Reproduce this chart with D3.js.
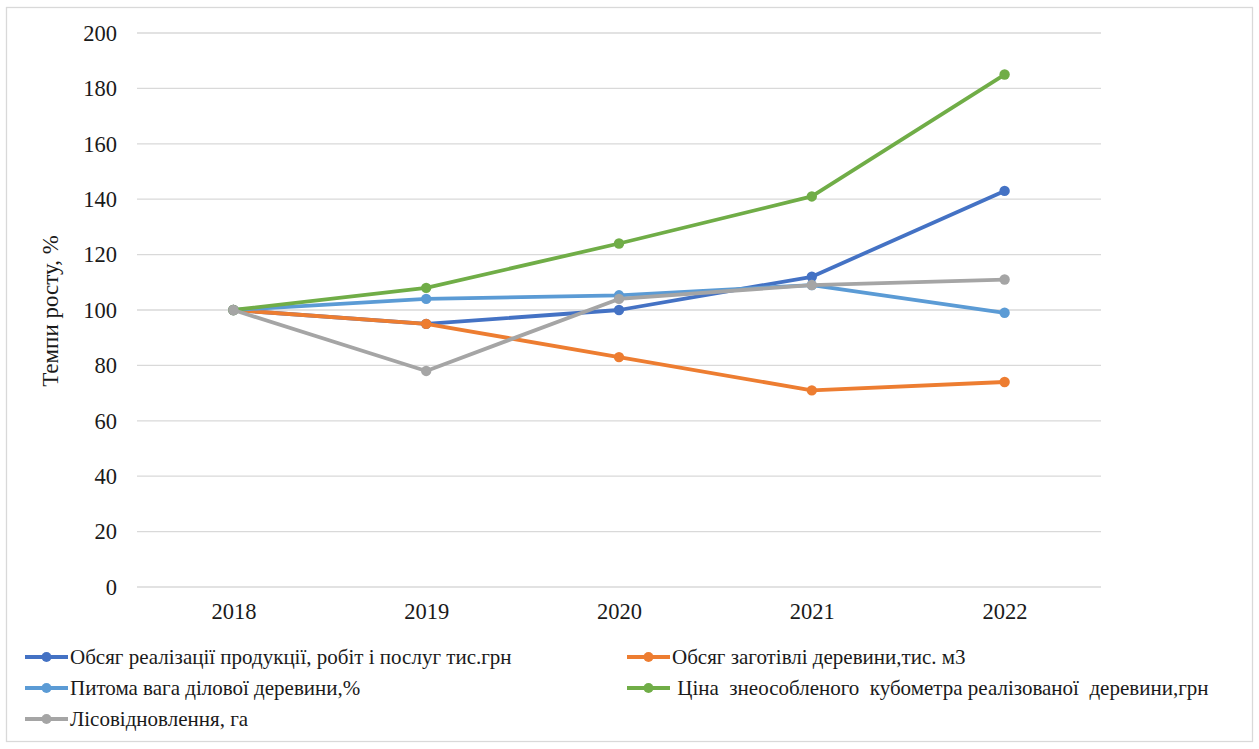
<!DOCTYPE html>
<html>
<head>
<meta charset="utf-8">
<script src="https://cdn.jsdelivr.net/npm/d3@7"></script>
<style>
  body { margin: 0; background: #fff; }
  svg text { font-family: "Liberation Serif", "Times New Roman", Tinos, "DejaVu Serif", serif !important; }
</style>
</head>
<body>
<svg id="main"></svg>
<script>
// years on the x axis
let years = ["2018", "2019", "2020", "2021", "2022"];
let yTicks = [0, 20, 40, 60, 80, 100, 120, 140, 160, 180, 200];

// growth rates, %
let salesVolume = [100, 95, 100, 112, 143];
let harvestVolume = [100, 95, 83, 71, 74];
let businessWoodShare = [100, 104, 105.3, 109, 99];
let cubicMeterPrice = [100, 108, 124, 141, 185];
let reforestation = [100, 78, 104, 109, 111];

let seriesNames = [
  "Обсяг реалізації продукції, робіт і послуг тис.грн",
  "Обсяг заготівлі деревини,тис. м3",
  "Питома вага ділової деревини,%",
  " Ціна  знеособленого  кубометра реалізованої  деревини,грн",
  "Лісовідновлення, га"
];
let seriesColors = ["#4472C4", "#ED7D31", "#5B9BD5", "#70AD47", "#A5A5A5"];
let seriesValues = [salesVolume, harvestVolume, businessWoodShare, cubicMeterPrice, reforestation];

const W = 1259, H = 749;
const plot = {left: 137, right: 1101, top: 33, bottom: 587};

const svg = d3.select("#main").attr("width", W).attr("height", H);

// outer frame
svg.append("rect")
  .attr("x", 6.5).attr("y", 7.5)
  .attr("width", W - 13).attr("height", H - 15)
  .attr("fill", "#fff").attr("stroke", "#d9d9d9").attr("stroke-width", 1.3);

const x = d3.scalePoint()
  .domain(years)
  .range([plot.left, plot.right])
  .padding(0.5);

const y = d3.scaleLinear()
  .domain([0, 200])
  .range([plot.bottom, plot.top]);

// grid lines
svg.append("g")
  .selectAll("line")
  .data(yTicks)
  .enter()
  .append("line")
  .attr("x1", plot.left).attr("x2", plot.right)
  .attr("y1", d => y(d)).attr("y2", d => y(d))
  .attr("stroke", "#d9d9d9").attr("stroke-width", 1.3);

// Y axis
const yAxis = svg.append("g")
  .attr("transform", "translate(" + (plot.left - 20) + ",0)")
  .call(d3.axisLeft(y).tickValues(yTicks).tickSize(0).tickPadding(0));
yAxis.attr("font-family", null);
yAxis.select(".domain").remove();
yAxis.selectAll("text")
  .attr("font-size", 22.5).attr("fill", "#1a1a1a");

// X axis
const xAxis = svg.append("g")
  .attr("transform", "translate(0," + plot.bottom + ")")
  .call(d3.axisBottom(x).tickSize(0).tickPadding(16));
xAxis.attr("font-family", null);
xAxis.select(".domain").remove();
xAxis.selectAll("text")
  .attr("font-size", 22.5).attr("fill", "#1a1a1a");

// Y title
svg.append("text")
  .attr("transform", "translate(58,311) rotate(-90)")
  .attr("text-anchor", "middle")
  .attr("font-size", 23).attr("fill", "#1a1a1a")
  .text("Темпи росту, %");

const line = d3.line()
  .x((d, i) => x(years[i]))
  .y(d => y(d));

seriesValues.forEach((vals, k) => {
  svg.append("path")
    .datum(vals)
    .attr("d", line)
    .attr("fill", "none")
    .attr("stroke", seriesColors[k])
    .attr("stroke-width", 3.8)
    .attr("stroke-linejoin", "round");
  svg.selectAll(".pt" + k)
    .data(vals)
    .enter()
    .append("circle")
    .attr("cx", (d, i) => x(years[i]))
    .attr("cy", d => y(d))
    .attr("r", 5.2)
    .attr("fill", seriesColors[k]);
});

// legend
let legendPos = [[25, 657], [627, 657], [25, 688], [627, 688], [25, 719]];
seriesNames.forEach((name, k) => {
  let g = svg.append("g").attr("transform", "translate(" + legendPos[k][0] + "," + legendPos[k][1] + ")");
  g.append("line").attr("x1", 0).attr("x2", 43).attr("y1", 0).attr("y2", 0)
    .attr("stroke", seriesColors[k]).attr("stroke-width", 3.8);
  g.append("circle").attr("cx", 21.5).attr("cy", 0).attr("r", 5).attr("fill", seriesColors[k]);
  g.append("text").attr("x", 45).attr("y", 7)
    .attr("font-size", 21).attr("fill", "#1a1a1a")
    .style("white-space", "pre")
    .text(name);
});
</script>
</body>
</html>
